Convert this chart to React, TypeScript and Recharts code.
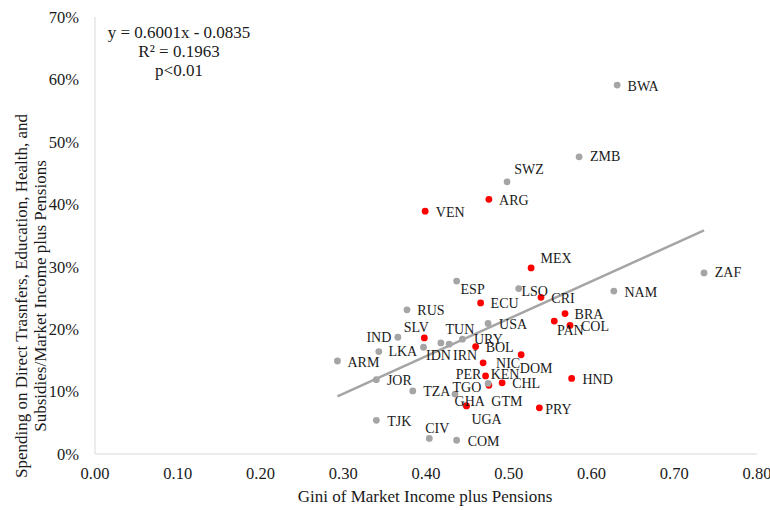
import React from 'react';
import { ScatterChart, Scatter, XAxis, YAxis, ReferenceLine } from 'recharts';

// Country codes, Gini of market income plus pensions, and spending ratio
const countries = [
  'BWA', 'ZMB', 'SWZ', 'ARG', 'VEN', 'MEX', 'ZAF', 'NAM', 'ESP', 'LSO',
  'CRI', 'ECU', 'RUS', 'BRA', 'PAN', 'COL', 'USA', 'SLV', 'IND', 'TUN',
  'IDN', 'IRN', 'URY', 'LKA', 'ARM', 'BOL', 'DOM', 'NIC', 'PER', 'CHL',
  'HND', 'JOR', 'TZA', 'TGO', 'GTM', 'KEN', 'GHA', 'UGA', 'PRY', 'TJK',
  'CIV', 'COM',
];
const gini = [
  0.631, 0.585, 0.498, 0.476, 0.399, 0.527, 0.736, 0.627, 0.437, 0.512,
  0.539, 0.466, 0.377, 0.568, 0.555, 0.574, 0.475, 0.398, 0.366, 0.418,
  0.397, 0.428, 0.444, 0.343, 0.293, 0.460, 0.515, 0.469, 0.472, 0.492,
  0.576, 0.340, 0.384, 0.435, 0.476, 0.475, 0.448, 0.449, 0.537, 0.340,
  0.404, 0.437,
];
const spending = [
  0.591, 0.476, 0.436, 0.408, 0.389, 0.298, 0.290, 0.261, 0.277, 0.265,
  0.251, 0.242, 0.231, 0.225, 0.213, 0.206, 0.209, 0.186, 0.187, 0.178,
  0.171, 0.176, 0.184, 0.164, 0.149, 0.172, 0.159, 0.146, 0.125, 0.114,
  0.121, 0.119, 0.101, 0.096, 0.110, 0.113, 0.078, 0.077, 0.074, 0.054,
  0.025, 0.022,
];
// Countries drawn in red
const highlighted = [
  'ARG', 'VEN', 'MEX', 'CRI', 'ECU', 'BRA', 'PAN', 'COL', 'SLV', 'BOL',
  'DOM', 'NIC', 'PER', 'CHL', 'HND', 'GTM', 'UGA', 'PRY',
];

const xTicks = [0, 0.1, 0.2, 0.3, 0.4, 0.5, 0.6, 0.7, 0.8];
const yTicks = [0, 0.1, 0.2, 0.3, 0.4, 0.5, 0.6, 0.7];

const slope = 0.6001;
const intercept = -0.0835;
const fitLines = ['y = 0.6001x - 0.0835', 'R² = 0.1963', 'p<0.01'];

const xTitle = 'Gini of Market Income plus Pensions';
const yTitle = [
  'Spending on Direct Trasnfers, Education, Health, and',
  'Subsidies/Market Income plus Pensions',
];

// label placement (pixels from the dot to the label centre)
const labelOffset: Record<string, [number, number]> = {
  BWA: [26, 1], ZMB: [26, 0], SWZ: [22, -12], ARG: [25, 1], VEN: [25, 1],
  MEX: [25, -9], ZAF: [24, 0], NAM: [27, 1], ESP: [16, 8], LSO: [16, 3],
  CRI: [22, 1], ECU: [24, 1], RUS: [24, 1], BRA: [24, 1], PAN: [16, 9],
  COL: [25, 1], USA: [25, 1], SLV: [-8, -10], IND: [-19, 0], TUN: [19, -13],
  IDN: [15, 8], IRN: [16, 11], URY: [26, 0], LKA: [24, 0], ARM: [26, 2],
  BOL: [24, 1], DOM: [15, 14], NIC: [25, 1], PER: [-17, -1], CHL: [24, 1],
  HND: [26, 1], JOR: [23, 1], TZA: [24, 1], TGO: [12, -7], GTM: [18, 16],
  KEN: [17, -9], GHA: [4, -4], UGA: [20, 14], PRY: [19, 2], TJK: [23, 1],
  CIV: [8, -10], COM: [27, 1],
};

const data = countries.map((code, i) => ({ code, x: gini[i], y: spending[i] }));

const FONT = "'Liberation Serif', 'Times New Roman', serif";
const INK = '#1a1a1a';
const RED = '#FF0000';
const GRAY = '#A5A5A5';
const AXIS = '#D9D9D9';

const Dot = (props: any) => {
  const { cx, cy, payload } = props;
  const fill = highlighted.includes(payload.code) ? RED : GRAY;
  return <circle cx={cx} cy={cy} r={3.4} fill={fill} />;
};

const Tag = (props: any) => {
  const { cx, cy, payload } = props;
  const [dx, dy] = labelOffset[payload.code] || [24, 0];
  return (
    <text
      x={cx + dx}
      y={cy + dy}
      textAnchor="middle"
      dominantBaseline="central"
      style={{ fontFamily: FONT, fontSize: 14 }}
      fill={INK}
    >
      {payload.code}
    </text>
  );
};

export default function App() {
  const minX = Math.min(...gini);
  const maxX = Math.max(...gini);
  const tickStyle = { fill: INK, fontSize: 16.5, style: { fontFamily: FONT } };

  return (
    <div
      style={{
        position: 'absolute',
        left: 0,
        top: 0,
        width: 770,
        height: 510,
        background: '#fff',
        fontFamily: FONT,
      }}
    >
      <ScatterChart
        width={770}
        height={510}
        margin={{ top: 17, right: 13, bottom: 0, left: 0 }}
        style={{ fontFamily: FONT }}
      >
        <XAxis
          type="number"
          dataKey="x"
          domain={[0, 0.8]}
          ticks={xTicks}
          tickFormatter={(v: number) => v.toFixed(2)}
          height={56}
          stroke={AXIS}
          tickLine={false}
          tickSize={0}
          tickMargin={13}
          tick={tickStyle}
          interval={0}
        />
        <YAxis
          type="number"
          dataKey="y"
          domain={[0, 0.7]}
          ticks={yTicks}
          tickFormatter={(v: number) => `${Math.round(v * 100)}%`}
          width={95}
          stroke={AXIS}
          tickLine={false}
          tickSize={0}
          tickMargin={16}
          tick={tickStyle}
          interval={0}
        />
        <ReferenceLine
          segment={[
            { x: minX, y: slope * minX + intercept },
            { x: maxX, y: slope * maxX + intercept },
          ]}
          stroke={GRAY}
          strokeWidth={2.5}
        />
        <Scatter data={data} shape={<Dot />} isAnimationActive={false} />
        <Scatter data={data} shape={<Tag />} isAnimationActive={false} />
      </ScatterChart>
      <svg
        width={770}
        height={510}
        style={{ position: 'absolute', left: 0, top: 0, pointerEvents: 'none', fontFamily: FONT }}
      >
        <g fontSize={17} fill={INK}>
          {fitLines.map((t, i) => (
            <text key={t} x={179} y={38 + i * 19} textAnchor="middle">
              {t}
            </text>
          ))}
          <text x={425} y={502} textAnchor="middle">
            {xTitle}
          </text>
          {yTitle.map((t, i) => (
            <text
              key={t}
              x={27 + i * 19}
              y={296}
              textAnchor="middle"
              transform={`rotate(-90 ${27 + i * 19} 296)`}
            >
              {t}
            </text>
          ))}
        </g>
      </svg>
    </div>
  );
}
